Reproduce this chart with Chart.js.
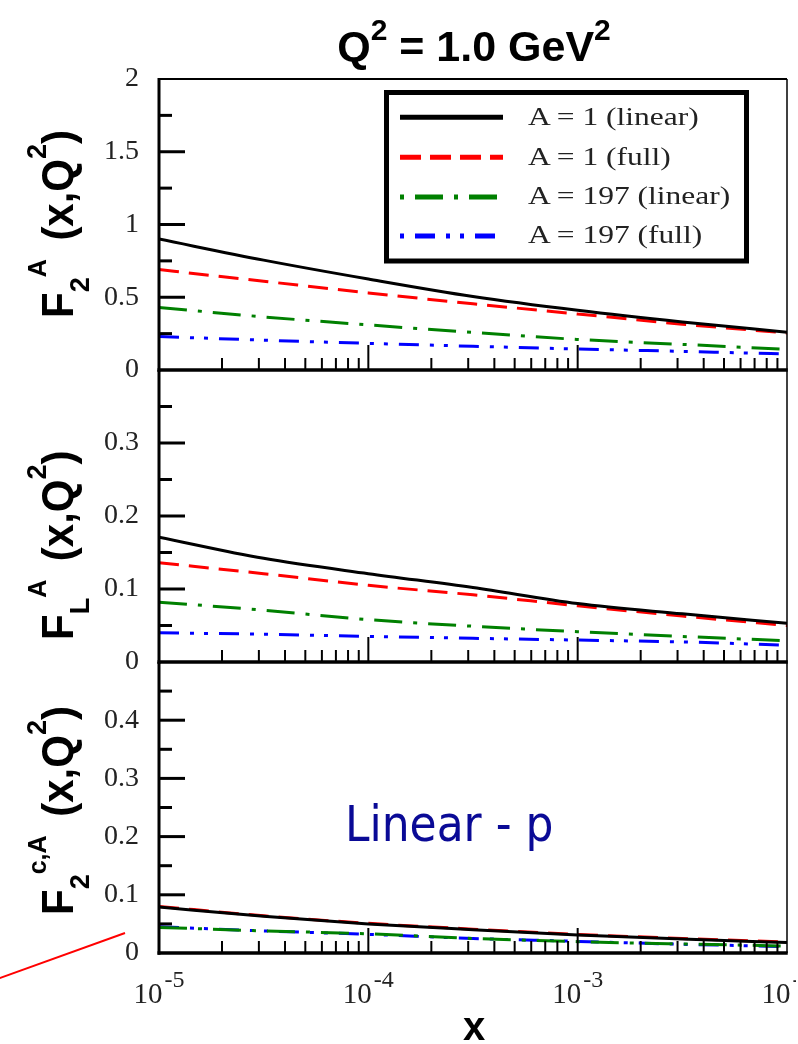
<!DOCTYPE html>
<html><head><meta charset="utf-8">
<script src="https://cdn.jsdelivr.net/npm/chart.js@4.4.1/dist/chart.umd.min.js"></script>
<style>
html,body{margin:0;padding:0;background:#fff;}
#stage{position:relative;width:796px;height:1044px;overflow:hidden;background:#fff;}
canvas{position:absolute;left:0;top:0;}
#ov{position:absolute;left:0;top:0;pointer-events:none;}
</style></head><body>
<div id="stage">
<canvas id="c1" width="798" height="1044" style="width:798px;height:1044px"></canvas>
<canvas id="c2" width="798" height="1044" style="width:798px;height:1044px"></canvas>
<canvas id="c3" width="798" height="1044" style="width:798px;height:1044px"></canvas>
<svg id="ov" width="798" height="1044" viewBox="0 0 798 1044" xmlns="http://www.w3.org/2000/svg">
  <!-- title -->
  <text x="474" y="61" text-anchor="middle" style="white-space:pre" font-family="'Liberation Sans', Arial, sans-serif" font-weight="bold" font-size="43" fill="#000">Q<tspan font-size="30" dy="-21">2</tspan><tspan dy="21"> = 1.0 GeV</tspan><tspan font-size="30" dy="-21">2</tspan></text>

  <!-- y titles -->
  <g font-family="'Liberation Sans', Arial, sans-serif" font-weight="bold" fill="#000" style="white-space:pre">
    <text transform="translate(73,318) scale(1.05,1) rotate(-90)" font-size="42">F<tspan font-size="27" dy="15">2</tspan><tspan font-size="25" dy="-41">A</tspan><tspan dy="26" dx="7"> (x,Q</tspan><tspan font-size="27" dy="-26">2</tspan><tspan dy="26">)</tspan></text>
    <text transform="translate(73,640) scale(1.05,1) rotate(-90)" font-size="42">F<tspan font-size="27" dy="15">L</tspan><tspan font-size="25" dy="-41">A</tspan><tspan dy="26" dx="7"> (x,Q</tspan><tspan font-size="27" dy="-26">2</tspan><tspan dy="26">)</tspan></text>
    <text transform="translate(73,915) scale(1.05,1) rotate(-90)" font-size="42">F<tspan font-size="27" dy="15">2</tspan><tspan font-size="25" dy="-41">c,A</tspan><tspan dy="26" dx="7"> (x,Q</tspan><tspan font-size="27" dy="-26">2</tspan><tspan dy="26">)</tspan></text>
    <text x="474" y="1040" text-anchor="middle" font-size="40">x</text>
  </g>

  <!-- legend -->
  <rect x="386.5" y="92.5" width="360" height="168.5" fill="#fff" stroke="#000" stroke-width="5"/>
  <line x1="400" y1="117.3" x2="503" y2="117.3" stroke="#000" stroke-width="5"/>
  <line x1="400" y1="157.3" x2="503" y2="157.3" stroke="#ff0000" stroke-width="5" stroke-dasharray="21 9"/>
  <line x1="400" y1="197" x2="503" y2="197" stroke="#008000" stroke-width="5" stroke-dasharray="4 11 28 11"/>
  <line x1="400" y1="236" x2="503" y2="236" stroke="#0000ff" stroke-width="5" stroke-dasharray="4 11 20 11 4 10"/>
  <g font-family="'Liberation Serif', 'Times New Roman', serif" font-size="25" fill="#222" style="white-space:pre">
    <text transform="translate(528,125) scale(1.26,1)">A = 1 (linear)</text>
    <text transform="translate(528,165) scale(1.26,1)">A = 1 (full)</text>
    <text transform="translate(528,204) scale(1.26,1)">A = 197 (linear)</text>
    <text transform="translate(528,243) scale(1.26,1)">A = 197 (full)</text>
  </g>

  <!-- annotation -->
  <text transform="translate(345,841) scale(0.88,1)" font-family="'DejaVu Sans', sans-serif" font-size="50" fill="#0a0a96">Linear - p</text>
  <line x1="-10" y1="981.6" x2="125" y2="933" stroke="#ff0000" stroke-width="2"/>
</svg>
</div>
<script>
// ---- data ----
const xValues = [1e-5, 3.16e-5, 1e-4, 3.16e-4, 1e-3, 3.16e-3, 1e-2];
const seriesLabels = ['A = 1 (linear)', 'A = 1 (full)', 'A = 197 (linear)', 'A = 197 (full)'];

// Panel 1: F2^A(x,Q^2)
const f2_A1_linear   = [0.90, 0.755, 0.625, 0.505, 0.41, 0.33, 0.26];
const f2_A1_full     = [0.69, 0.61, 0.53, 0.455, 0.385, 0.315, 0.254];
const f2_A197_linear = [0.43, 0.365, 0.31, 0.258, 0.21, 0.176, 0.142];
const f2_A197_full   = [0.23, 0.205, 0.183, 0.163, 0.144, 0.128, 0.11];

// Panel 2: FL^A(x,Q^2)
const fL_A1_linear   = [0.171, 0.142, 0.121, 0.102, 0.080, 0.066, 0.053];
const fL_A1_full     = [0.136, 0.121, 0.105, 0.092, 0.077, 0.063, 0.050];
const fL_A197_linear = [0.082, 0.071, 0.058, 0.049, 0.0415, 0.035, 0.029];
const fL_A197_full   = [0.040, 0.038, 0.035, 0.0325, 0.030, 0.0275, 0.023];

// Panel 3: F2^{c,A}(x,Q^2)
const f2c_A1_linear   = [0.079, 0.063, 0.050, 0.040, 0.031, 0.024, 0.018];
const f2c_A1_full     = [0.080, 0.064, 0.051, 0.041, 0.032, 0.025, 0.019];
const f2c_A197_linear = [0.044, 0.038, 0.033, 0.025, 0.0195, 0.0155, 0.012];
const f2c_A197_full   = [0.045, 0.038, 0.032, 0.025, 0.020, 0.015, 0.011];

// ---- tick values ----
const yMajor1 = [0.5, 1, 1.5];
const yMinor1 = [0.25, 0.75, 1.25, 1.75];
const yMajor2 = [0.1, 0.2, 0.3];
const yMinor2 = [0.05, 0.15, 0.25, 0.35];
const yMajor3 = [0.1, 0.2, 0.3, 0.4];
const yMinor3 = [0.05, 0.15, 0.25, 0.35, 0.45];
const xMajorTicks = [1e-4, 1e-3];
const xMinorTicks = [2e-5, 3e-5, 4e-5, 5e-5, 6e-5, 7e-5, 8e-5, 9e-5,
                     2e-4, 3e-4, 4e-4, 5e-4, 6e-4, 7e-4, 8e-4, 9e-4,
                     2e-3, 3e-3, 4e-3, 5e-3, 6e-3, 7e-3, 8e-3, 9e-3];
const xLabelValues = [1e-5, 1e-4, 1e-3, 1e-2];
const xLabelExponents = ['-5', '-4', '-3', '-2'];

// ---- styles ----
const lineStyles = [
  {color: '#000000', dash: []},
  {color: '#ff0000', dash: [20, 10]},
  {color: '#008000', dash: [28, 11, 4, 11]},
  {color: '#0000ff', dash: [20, 11, 4, 10, 4, 11]}
];

function makeFrame(p) {
  return {
    id: 'frame',
    afterDatasetsDraw(chart) {
      const {ctx, chartArea: a, scales} = chart;
      const x = scales.x, y = scales.y;
      ctx.save();
      ctx.strokeStyle = '#000';
      ctx.lineCap = 'butt';
      const seg = (x1, y1, x2, y2, w) => {
        ctx.lineWidth = w; ctx.beginPath(); ctx.moveTo(x1, y1); ctx.lineTo(x2, y2); ctx.stroke();
      };
      p.yMajor.forEach(v => { const py = y.getPixelForValue(v); seg(a.left, py, a.left + 26, py, 3); });
      p.yMinor.forEach(v => { const py = y.getPixelForValue(v); seg(a.left, py, a.left + 13, py, 3); });
      xMinorTicks.forEach(v => { const px = x.getPixelForValue(v); seg(px, a.bottom, px, a.bottom - 12, 2); });
      xMajorTicks.forEach(v => { const px = x.getPixelForValue(v); seg(px, a.bottom, px, a.bottom - 25, 2); });
      seg(a.right, a.top, a.right, a.bottom, 1.5);
      if (p.drawTop) seg(a.left, a.top, a.right, a.top, 2);
      seg(a.left, a.top - (p.drawTop ? 1 : 0), a.left, a.bottom + 1.75, 3);
      seg(a.left - 1.5, a.bottom, a.right + 0.75, a.bottom, 3.5);
      if (p.xLabels) {
        ctx.fillStyle = '#222';
        ctx.textAlign = 'left';
        ctx.textBaseline = 'alphabetic';
        xLabelValues.forEach((v, i) => {
          const px = x.getPixelForValue(v);
          ctx.font = '29px "Liberation Serif", "Times New Roman", serif';
          const w10 = ctx.measureText('10').width;
          ctx.font = '24px "Liberation Serif", "Times New Roman", serif';
          const we = ctx.measureText(xLabelExponents[i]).width;
          const start = px - (w10 + 2 + we) / 2;
          ctx.font = '29px "Liberation Serif", "Times New Roman", serif';
          ctx.fillText('10', start, 1003);
          ctx.font = '24px "Liberation Serif", "Times New Roman", serif';
          ctx.fillText(xLabelExponents[i], start + w10 + 2, 987);
        });
      }
      ctx.restore();
    }
  };
}

function makeChart(id, p) {
  return new Chart(document.getElementById(id), {
    type: 'line',
    data: {
      datasets: p.series.map((arr, i) => ({
        label: seriesLabels[i],
        data: xValues.map((xv, k) => ({x: xv, y: arr[k]})),
        borderColor: lineStyles[i].color,
        borderDash: lineStyles[i].dash,
        borderWidth: 3,
        pointRadius: 0,
        fill: false,
        cubicInterpolationMode: 'monotone'
      }))
    },
    options: {
      responsive: false,
      animation: false,
      devicePixelRatio: 1,
      events: [],
      layout: {padding: {left: 99, right: 11, top: p.top, bottom: 1044 - p.bottom}},
      plugins: {legend: {display: false}, tooltip: {enabled: false}, title: {display: false}},
      scales: {
        x: {type: 'logarithmic', min: 1e-5, max: 1e-2, display: false},
        y: {
          type: 'linear', min: 0, max: p.max, display: true,
          afterFit: (s) => { s.width = 60; },
          grid: {display: false},
          border: {display: false},
          ticks: {
            stepSize: p.step, padding: 12, color: '#222',
            font: {family: '"Liberation Serif", "Times New Roman", serif', size: 28},
            callback: (v) => (v > p.labelMax + 1e-9 ? '' : String(Math.round(v * 100) / 100))
          }
        }
      }
    },
    plugins: [makeFrame(p)]
  });
}

makeChart('c1', {top: 79, bottom: 370, max: 2, step: 0.5, labelMax: 2,
  yMajor: yMajor1, yMinor: yMinor1, drawTop: true, xLabels: false,
  series: [f2_A1_linear, f2_A1_full, f2_A197_linear, f2_A197_full]});
makeChart('c2', {top: 370, bottom: 662, max: 0.4, step: 0.1, labelMax: 0.3,
  yMajor: yMajor2, yMinor: yMinor2, drawTop: false, xLabels: false,
  series: [fL_A1_linear, fL_A1_full, fL_A197_linear, fL_A197_full]});
makeChart('c3', {top: 662, bottom: 953, max: 0.5, step: 0.1, labelMax: 0.4,
  yMajor: yMajor3, yMinor: yMinor3, drawTop: false, xLabels: true,
  series: [f2c_A1_linear, f2c_A1_full, f2c_A197_linear, f2c_A197_full]});
</script>
</body></html>
